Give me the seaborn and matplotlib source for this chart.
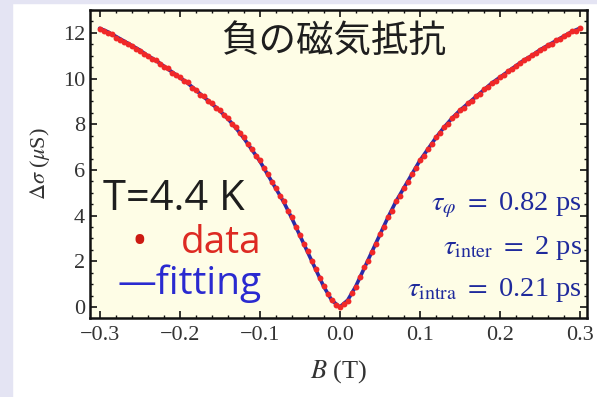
import numpy as np
import pandas as pd
import matplotlib
matplotlib.use("Agg")
import matplotlib.pyplot as plt
from matplotlib.patches import Rectangle
from matplotlib.ticker import MultipleLocator
import seaborn as sns

# Magnetic field grid for the fitted curve (T) and fitted conductance change (uS)
fit_B = [round(-0.30 + 0.01 * i, 2) for i in range(61)]
fit_dsigma = [
    12.2, 12.05, 11.85, 11.65, 11.45, 11.25, 11.0, 10.8, 10.55, 10.3,
    10.05, 9.8, 9.5, 9.2, 8.9, 8.6, 8.25, 7.85, 7.4, 6.9,
    6.4, 5.8, 5.2, 4.6, 3.9, 3.15, 2.4, 1.65, 0.9, 0.3,
    0.0,
    0.3, 0.9, 1.65, 2.4, 3.15, 3.9, 4.6, 5.2, 5.8, 6.4,
    6.9, 7.4, 7.85, 8.25, 8.6, 8.9, 9.2, 9.5, 9.8, 10.05,
    10.3, 10.55, 10.8, 11.0, 11.25, 11.45, 11.65, 11.85, 12.05, 12.2,
]

# Measured points, every 5 mT from -0.3 T to 0.3 T
data_B = [round(-0.300 + 0.005 * i, 3) for i in range(121)]
data_dsigma = [
    12.15, 12.08, 12.0, 11.93, 11.78, 11.7, 11.58, 11.52, 11.42, 11.3,
    11.22, 11.08, 10.98, 10.85, 10.82, 10.64, 10.5, 10.45, 10.25, 10.15,
    10.08, 9.9, 9.83, 9.6, 9.52, 9.3, 9.22, 9.0, 8.93, 8.72,
    8.62, 8.4, 8.27, 8.02, 7.88, 7.6, 7.42, 7.12, 6.92, 6.62,
    6.42, 6.08, 5.82, 5.47, 5.22, 4.88, 4.62, 4.22, 3.92, 3.5,
    3.17, 2.76, 2.45, 2.0, 1.67, 1.25, 0.92, 0.56, 0.32, 0.08,
    0.02,
    0.12, 0.28, 0.6, 0.88, 1.3, 1.75, 2.0, 2.42, 2.76, 3.18,
    3.5, 3.93, 4.22, 4.62, 4.88, 5.23, 5.48, 5.82, 6.08, 6.43,
    6.63, 6.92, 7.13, 7.42, 7.6, 7.87, 8.03, 8.27, 8.41, 8.62,
    8.73, 8.92, 9.03, 9.22, 9.33, 9.55, 9.63, 9.82, 9.91, 10.07,
    10.16, 10.32, 10.41, 10.57, 10.66, 10.82, 10.88, 11.02, 11.11, 11.27,
    11.33, 11.47, 11.53, 11.67, 11.73, 11.87, 11.93, 12.07, 12.1, 12.22,
]

x_ticks = [-0.3, -0.2, -0.1, 0.0, 0.1, 0.2, 0.3]
x_tick_labels = ["\u22120.3", "\u22120.2", "\u22120.1", "0.0", "0.1", "0.2", "0.3"]
y_ticks = [0, 2, 4, 6, 8, 10, 12]

title_text = "負の磁気抵抗"
temp_text = "T=4.4 K"
param_lines = [
    r"$\tau_{\varphi}$ $=$ 0.82 ps",
    r"$\tau_{\mathrm{inter}}$ $=$ 2 ps",
    r"$\tau_{\mathrm{intra}}$ $=$ 0.21 ps",
]

fit_df = pd.DataFrame({"B": fit_B, "dsigma": fit_dsigma})
data_df = pd.DataFrame({"B": data_B, "dsigma": data_dsigma})

sns.set_style("ticks")
plt.rcParams["mathtext.fontset"] = "stix"
plt.rcParams["font.family"] = ["Liberation Serif", "DejaVu Serif"]

fig = plt.figure(figsize=(5.97, 3.97), dpi=100, facecolor="white")
# lavender margin bands
fig.patches.append(Rectangle((0, 0), 12 / 597, 1, transform=fig.transFigure,
                             color="#e4e4f3", zorder=-10))
fig.patches.append(Rectangle((0, 1 - 3 / 397), 1, 3 / 397, transform=fig.transFigure,
                             color="#e4e4f3", zorder=-10))

ax = fig.add_axes([90 / 597, 79 / 397, 497 / 597, 308 / 397])
ax.set_facecolor("#fefde6")

sns.lineplot(data=fit_df, x="B", y="dsigma", ax=ax, color="#2a2aa8",
             linewidth=2.6, zorder=2, estimator=None, sort=False)
sns.scatterplot(data=data_df, x="B", y="dsigma", ax=ax, color="#f02828",
                s=18, linewidth=0, zorder=3)

ax.set_xlim(-0.312, 0.309)
ax.set_ylim(-0.48, 13.0)
ax.set_xticks(x_ticks)
ax.set_xticklabels(x_tick_labels)
ax.set_yticks(y_ticks)
ax.xaxis.set_minor_locator(MultipleLocator(0.02))
ax.yaxis.set_minor_locator(MultipleLocator(0.5))
ax.tick_params(which="both", direction="in", top=True, right=True,
               color="#111111", labelcolor="#333333", labelsize=16)
ax.tick_params(which="major", length=5, width=1.2)
ax.tick_params(which="minor", length=2.5, width=1.0)
ax.tick_params(axis="x", pad=6)
for sp in ax.spines.values():
    sp.set_linewidth(1.8)
    sp.set_color("#111111")

ax.set_xlabel(r"$B$ (T)", fontsize=19, color="#333333", labelpad=9)
ax.set_ylabel(r"$\Delta\sigma$ ($\mu$S)", fontsize=16, color="#333333", labelpad=8)

cjk = ["Noto Sans CJK JP", "DejaVu Sans"]
latin = ["Open Sans", "Noto Sans CJK JP", "DejaVu Sans"]
ax.text(0.49, 0.895, title_text, transform=ax.transAxes, ha="center", va="center",
        fontsize=27, color="#1e1e1e", family=cjk)
ax.text(0.026, 0.385, temp_text, transform=ax.transAxes, ha="left", va="center",
        fontsize=30, color="#1e1e1e", family=latin)
ax.text(0.346, 0.245, "data", transform=ax.transAxes, ha="right", va="center",
        fontsize=28, color="#dd2a22", family=latin)
ax.text(0.10, 0.245, "•", transform=ax.transAxes, ha="center", va="center",
        fontsize=30, color="#cc1a12", family=latin)
ax.text(0.346, 0.11, "—fitting", transform=ax.transAxes, ha="right", va="center",
        fontsize=28, color="#2a2ad0", family=latin)

for i, line in enumerate(param_lines):
    ax.text(0.99, 0.365 - i * 0.137, line, transform=ax.transAxes, ha="right",
            va="center", fontsize=20.5, color="#1f2a9c")

fig.savefig("out.png", dpi=100, facecolor=fig.get_facecolor())
